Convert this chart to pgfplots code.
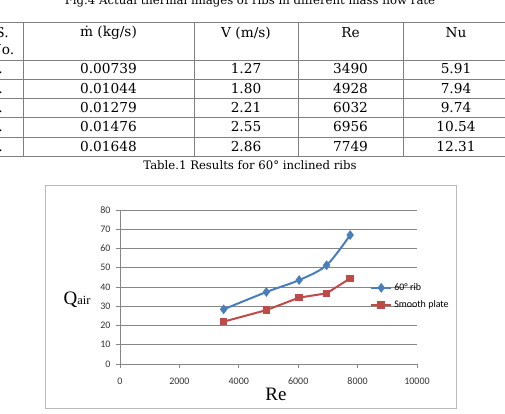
\documentclass[border=0pt]{standalone}
\usepackage{pgfplots}
\pgfplotsset{compat=1.18}
\usepackage{fontspec}
\setmainfont{DejaVu Serif}
\newfontfamily\calibri{Carlito}
\newfontfamily\tnr{Liberation Serif}

\definecolor{rule}{RGB}{128,128,128}
\definecolor{gridgray}{RGB}{134,134,134}
\definecolor{ribblue}{RGB}{74,126,187}
\definecolor{platered}{RGB}{190,75,72}

\begin{document}
\begin{tikzpicture}[x=1pt,y=1pt]
\useasboundingbox (0,0) rectangle (505,414);
\clip (0,0) rectangle (505,414);
\coordinate (plotorigin) at (120,50);

% caption of the preceding figure
\node[font=\fontsize{11.7}{13}\selectfont] at (250,413) {Fig.4 Actual thermal images of ribs in different mass flow rate};

% results table
\foreach \yy in {392,354,335,316,297,277,258}
  \draw[rule, line width=0.8pt] (-10,\yy) -- (515,\yy);
\foreach \xx in {23,194,298,403}
  \draw[rule, line width=0.8pt] (\xx,392) -- (\xx,258);

\begin{scope}[every node/.style={font=\fontsize{13.7}{16}\selectfont, inner sep=0pt}]
  \node at (2,381) {S.};
  \node at (2,364) {No.};
  \node at (108.5,381) {ṁ (kg/s)};
  \node at (246,381) {V (m/s)};
  \node at (350.5,381) {Re};
  \node at (456,381) {Nu};
  \foreach \r/\m/\v/\re/\nu [count=\i] in
    {1./0.00739/1.27/3490/5.91,
     2./0.01044/1.80/4928/7.94,
     3./0.01279/2.21/6032/9.74,
     4./0.01476/2.55/6956/10.54,
     5./0.01648/2.86/7749/12.31}{
    \pgfmathsetmacro{\yc}{345-19.3*(\i-1)}
    \node[anchor=east] at (3,\yc) {\r};
    \node at (108.5,\yc) {\m};
    \node at (246,\yc) {\v};
    \node at (350.5,\yc) {\re};
    \node at (456,\yc) {\nu};
  }
\end{scope}

\node[font=\fontsize{11.7}{13}\selectfont] at (250,249) {Table.1 Results for 60° inclined ribs};

% chart frame
\draw[gray!55, line width=0.8pt] (45,6) rectangle (456,229);

\begin{axis}[
  at={(plotorigin)}, anchor=south west,
  width=297pt, height=154pt, scale only axis,
  xmin=0, xmax=10000, ymin=0, ymax=80,
  xtick={0,2000,...,10000}, ytick={0,10,...,80},
  scaled x ticks=false,
  axis x line=bottom, axis y line=left,
  axis line style={gridgray, line width=0.7pt, -},
  tick align=outside, major tick length=4pt,
  tick style={gridgray, line width=0.7pt},
  ymajorgrids, grid style={gridgray, line width=0.7pt},
  ticklabel style={font=\calibri\fontsize{10}{12}\selectfont, text=black!80},
  /pgf/number format/assume math mode=true,
  /pgf/number format/1000 sep={},
  xticklabel style={yshift=-6pt},
  yticklabel style={xshift=-2pt},
  clip=false,
  legend style={at={(0.842,0.438)}, anchor=west, draw=none, fill=none,
    font=\calibri\fontsize{10}{12}\selectfont, row sep=5pt,
    inner xsep=0pt,
    /tikz/every even column/.append style={column sep=0pt}},
  legend cell align=left,
  legend image code/.code={
    \draw[#1, mark repeat=2, mark phase=2] plot coordinates {(0pt,0pt) (10pt,0pt) (20pt,0pt)};
  },
]
\addplot[color=ribblue, line width=2pt, smooth, mark=diamond*, mark size=3.3pt,
  mark options={solid, fill=ribblue}]
  coordinates {(3490,28.4) (4928,37.4) (6032,43.6) (6956,51.3) (7749,67.0)};
\addlegendentry{60° rib}
\addplot[color=platered, line width=2pt, mark=square*, mark size=2.8pt,
  mark options={solid, fill=platered}]
  coordinates {(3490,22.0) (4928,28.0) (6032,34.5) (6956,36.7) (7749,44.5)};
\addlegendentry{Smooth plate}
\end{axis}

% axis titles
\node[font=\tnr\fontsize{19}{22}\selectfont, anchor=base] at (77,109) {Q\fontsize{12.5}{14}\selectfont air};
\node[font=\tnr\fontsize{19}{22}\selectfont] at (276,20) {Re};
\end{tikzpicture}
\end{document}
